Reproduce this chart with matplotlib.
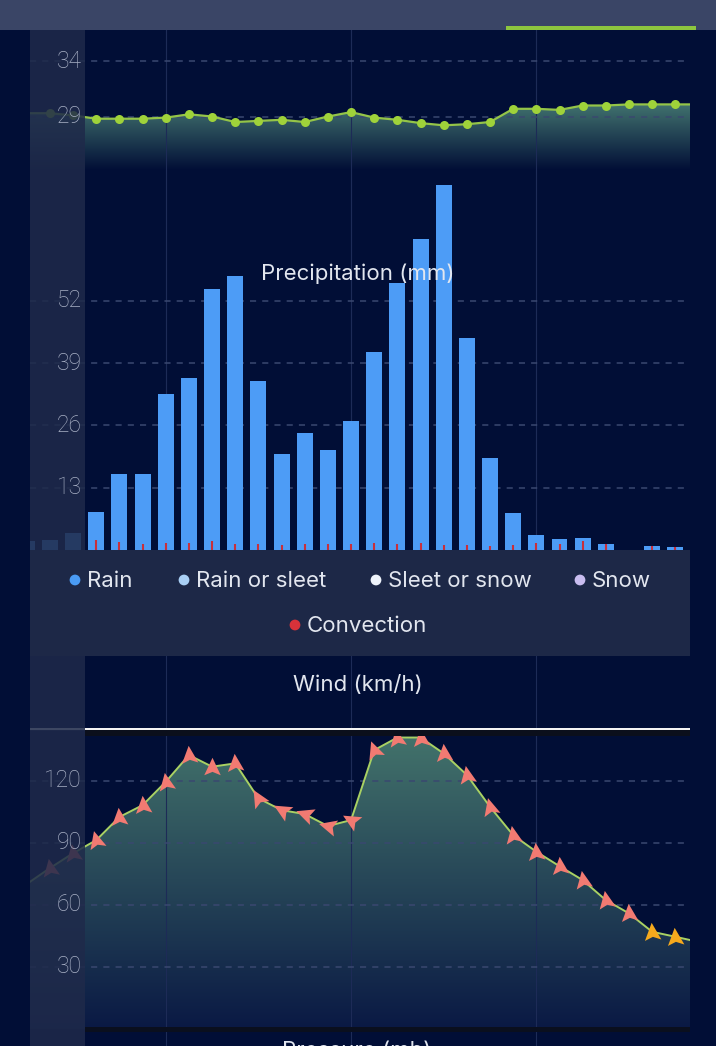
import numpy as np
import matplotlib
matplotlib.use("Agg")
import matplotlib.pyplot as plt
from matplotlib.patches import Rectangle, PathPatch
from matplotlib.markers import MarkerStyle
from matplotlib.path import Path
from matplotlib.colors import LinearSegmentedColormap
from matplotlib import transforms

# hourly slots; the first three sit under the sticky axis panel, the last one is cut at the right edge
slots = list(range(-3, 27))

temperature = [29.3, 29.3, 29.1,
               28.8, 28.8, 28.8, 28.9, 29.2, 29.0, 28.5, 28.6, 28.7, 28.5,
               29.0, 29.4, 28.9, 28.7, 28.4, 28.2, 28.3, 28.5, 29.7, 29.7,
               29.6, 30.0, 30.0, 30.1, 30.1, 30.1,
               30.1]

precip = [2.0, 2.2, 3.5,
          7.9, 15.9, 15.8, 32.6, 35.8, 54.4, 57.1, 35.2, 20.1, 24.4,
          20.8, 26.9, 41.4, 55.7, 64.8, 76.1, 44.3, 19.3, 7.7, 3.2,
          2.3, 2.5, 1.3, 0.0, 0.8, 0.6,
          0.0]

convection = [0, 0, 0,
              2.1, 1.7, 1.4, 1.6, 1.5, 1.9, 1.3, 1.3, 1.1, 1.25,
              1.25, 1.3, 1.5, 1.4, 1.5, 1.2, 1.1, 0.9, 1.0, 1.6,
              1.4, 2.0, 1.3, 0.0, 0.9, 0.6,
              0]

wind = [70.0, 77.7, 84.9,
        91.2, 102.4, 108.1, 119.4, 132.3, 126.7, 128.3, 111.4, 105.7, 103.8,
        98.0, 100.9, 134.7, 140.8, 140.8, 133.1, 122.7, 107.3, 93.6, 85.6,
        78.6, 71.9, 62.2, 55.8, 46.9, 44.5,
        42.0]

# direction the arrow tip points to (deg, counter-clockwise from east)
wind_dir = [100, 100, 100,
            105, 95, 95, 100, 95, 90, 95, 120, 150, 160,
            165, 150, 110, 100, 95, 95, 100, 105, 100, 95,
            95, 100, 100, 95, 95, 95,
            95]

temp_ticks = [29, 34]
precip_ticks = [13, 26, 39, 52]
wind_ticks = [30, 60, 90, 120]
day_lines = [3, 11, 19]

legend_items = ["Rain", "Rain or sleet", "Sleet or snow", "Snow", "Convection"]
legend_colors = ["#4a9bf4", "#a9cff5", "#eef3fb", "#c9bdf0", "#d8323a"]

W, H = 716, 1046
BG = "#010e36"
PANEL = "#1f2a4a"
GRID = "#3a4870"
TICK_C = "#a9b1c6"
TEXT_C = "#e2e6ef"
DAY_C = "#1d2b57"

plt.rcParams['font.family'] = ['Inter', 'DejaVu Sans']

fig = plt.figure(figsize=(W / 100, H / 100), dpi=100)
fig.patch.set_facecolor(BG)

# slot -> pixel: x = 96.3 + 23.16 * slot
X0, DX = 96.3, 23.16


def px_axes(x0, y0, x1, y1, zorder=0):
    ax = fig.add_axes([x0 / W, 1 - y1 / H, (x1 - x0) / W, (y1 - y0) / H])
    ax.set_zorder(zorder)
    ax.set_xlim((x0 - X0) / DX, (x1 - X0) / DX)
    ax.set_facecolor("none")
    ax.set_xticks([])
    ax.set_yticks([])
    for s in ax.spines.values():
        s.set_visible(False)
    return ax


def px_rect(x0, y0, x1, y1, color, alpha=1.0, zorder=1):
    r = Rectangle((x0 / W, 1 - y1 / H), (x1 - x0) / W, (y1 - y0) / H,
                  transform=fig.transFigure, facecolor=color, edgecolor="none",
                  alpha=alpha, zorder=zorder)
    fig.add_artist(r)


def gradient_fill(ax, x, y, ybot, ytop, c_top, c_bot):
    poly = ax.fill_between(x, y, ybot, facecolor="none", edgecolor="none")
    patch = PathPatch(poly.get_paths()[0], transform=ax.transData,
                      facecolor="none", edgecolor="none")
    ax.add_patch(patch)
    cmap = LinearSegmentedColormap.from_list("g", [c_bot, c_top])
    grad = np.linspace(0, 1, 256).reshape(-1, 1)
    xl = ax.get_xlim()
    im = ax.imshow(grad, extent=[xl[0], xl[1], ybot, ytop], origin="lower",
                   cmap=cmap, aspect="auto", zorder=1)
    im.set_clip_path(patch)
    ax.set_xlim(xl)


def grid_and_labels(ax, ticks):
    for t in ticks:
        ax.axhline(t, color=GRID, lw=1.1, dashes=(4, 4), zorder=1.5)
        tr = transforms.blended_transform_factory(fig.transFigure, ax.transData)
        fig.text(82 / W, t, str(t), transform=tr, ha="right", va="center",
                 fontsize=16.5, color=TICK_C, family="Roboto", fontweight="light",
                 zorder=6)
    for d in day_lines:
        ax.axvline(d, color=DAY_C, lw=0.8, zorder=1.4)


# background axes for the day lines in the gaps
bg = px_axes(0, 0, W, H, zorder=-1)
bg.set_ylim(H, 0)
for d in day_lines:
    bg.axvline(d, color=DAY_C, lw=0.8)

# temperature
ax_t = px_axes(30, 30, 690, 170)
ax_t.set_ylim(24.14, 36.86)
gradient_fill(ax_t, slots, temperature, 24.14, 30.3, "#437570", BG)
ax_t.set_ylim(24.14, 36.86)
grid_and_labels(ax_t, temp_ticks)
ax_t.plot(slots, temperature, color="#94c448", lw=1.6, zorder=3)
ax_t.plot(slots[1:-1], temperature[1:-1], "o", color="#9fd23a", ms=6.5, mec="none", zorder=4)

# precipitation
ax_p = px_axes(30, 170, 690, 550.3)
ax_p.set_ylim(0, 79.2)
grid_and_labels(ax_p, precip_ticks)
ax_p.bar(slots, precip, width=0.69, color="#4d9cf6", zorder=2)
ax_p.vlines(slots, 0, convection, color="#c8303c", lw=1.5, zorder=3)
fig.text(358 / W, 1 - 279.5 / H, "Precipitation (mm)", ha="center", va="baseline",
         fontsize=16, color=TEXT_C, zorder=6)

# wind
ax_w = px_axes(30, 728, 690, 1028.8)
ax_w.set_ylim(0, 145.4)
gradient_fill(ax_w, slots, wind, 0, 145.4, "#44756c", "#0a1944")
ax_w.set_ylim(0, 145.4)
grid_and_labels(ax_w, wind_ticks)
ax_w.plot(slots, wind, color="#a9d163", lw=1.4, zorder=3)
ax_w.axhline(145.4, color="#f4f4f4", lw=3, zorder=5)

arrow = Path([(1.0, 0.0), (-0.8, 0.85), (-0.45, 0.0), (-0.8, -0.85), (1.0, 0.0)],
             [Path.MOVETO, Path.LINETO, Path.LINETO, Path.LINETO, Path.CLOSEPOLY])
for s, v, a in zip(slots[1:-1], wind[1:-1], wind_dir[1:-1]):
    col = "#f5a91d" if v < 50 else "#f27a72"
    m = MarkerStyle(arrow, transform=transforms.Affine2D().rotate_deg(a))
    ax_w.plot(s, v, marker=m, ms=14, color=col, mec="none", ls="none", zorder=4)

fig.text(358 / W, 1 - 691.5 / H, "Wind (km/h)", ha="center", va="baseline",
         fontsize=16, color=TEXT_C, zorder=6)
fig.text(357 / W, 1 - 1057 / H, "Pressure (mb)", ha="center", va="baseline",
         fontsize=16, color=TEXT_C, zorder=6)

# sticky axis panel over the scrolled content
px_rect(30, 30, 85, H, PANEL, alpha=0.86, zorder=1)
# shadows under the wind plot borders
px_rect(85, 730, 690, 736, "#0b0f1c", zorder=2)
px_rect(85, 1027, 690, 1032, "#0a0f1e", zorder=2)

# legend box
ax_l = fig.add_axes([30 / W, 1 - 656 / H, 660 / W, 106 / H])
ax_l.set_zorder(3)
ax_l.set_facecolor("#1d2847")
ax_l.set_xlim(30, 690)
ax_l.set_ylim(656, 550)
ax_l.set_xticks([])
ax_l.set_yticks([])
for s in ax_l.spines.values():
    s.set_visible(False)
legend_pos = [(75, 580), (184, 580), (376, 580), (580, 580), (295, 625)]
for (lx, ly), lab, col in zip(legend_pos, legend_items, legend_colors):
    ax_l.scatter([lx], [ly], s=60, color=col, edgecolors="none")
    ax_l.text(lx + 12, ly + 1, lab, ha="left", va="center", fontsize=16, color=TEXT_C)

# header strip
px_rect(0, 0, W, 30, "#3a4566", zorder=5)
px_rect(506, 26, 696, 30, "#8dc63f", zorder=5)

fig.savefig("out.png", dpi=100, facecolor=BG)
